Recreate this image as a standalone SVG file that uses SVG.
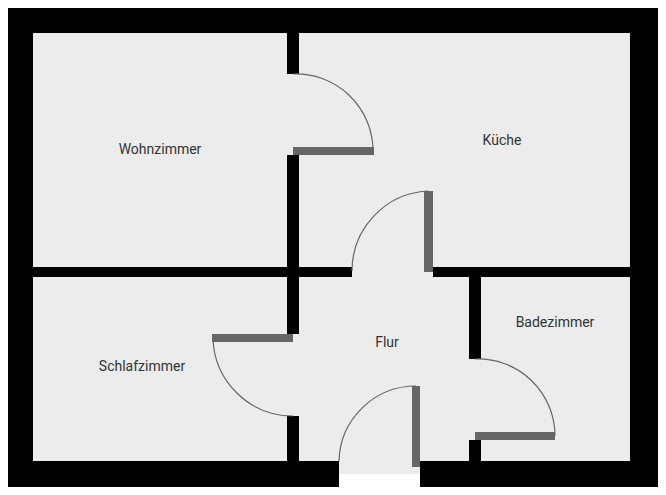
<svg xmlns="http://www.w3.org/2000/svg" width="666" height="495" viewBox="0 0 666 495">
<style>
.w{fill:#000}.d{fill:#666}.a{fill:none;stroke:#666;stroke-width:1.2}
text{font-family:Roboto,"Liberation Sans",sans-serif;font-size:14px;fill:#333;text-anchor:middle}
</style>
<rect width="666" height="495" fill="#fff"/>
<rect x="8" y="8" width="650" height="479" class="w"/>
<rect x="33" y="33" width="597" height="428" fill="#ececec"/>
<rect x="339" y="461" width="81" height="13" fill="#ececec"/>
<rect x="339" y="474" width="81" height="13" fill="#fff"/>
<g id="walls">
<rect x="287" y="33" width="12" height="41" class="w"/>
<rect x="287" y="155" width="12" height="122" class="w"/>
<rect x="33" y="267" width="319" height="10" class="w"/>
<rect x="433" y="267" width="197" height="10" class="w"/>
<rect x="287" y="277" width="12" height="57" class="w"/>
<rect x="287" y="416" width="12" height="45" class="w"/>
<rect x="469" y="277" width="12" height="82" class="w"/>
<rect x="469" y="440" width="12" height="21" class="w"/>
</g>
<g id="doors">
<rect x="293" y="147" width="81" height="8" class="d"/>
<path d="M293,74 A77,77 0 0 1 373,151" class="a"/>
<rect x="424" y="191" width="9" height="81" class="d"/>
<path d="M428,191 A80,80 0 0 0 352,271" class="a"/>
<rect x="212" y="334" width="81" height="8" class="d"/>
<path d="M213,338 A80,80 0 0 0 293,416" class="a"/>
<rect x="475" y="432" width="80" height="8" class="d"/>
<path d="M475,359 A77,77 0 0 1 555,436" class="a"/>
<rect x="412" y="386" width="8" height="81" class="d"/>
<path d="M416,386 A77,77 0 0 0 339,461" class="a"/>
</g>
<g id="labels">
<text x="160" y="154">Wohnzimmer</text>
<text x="502" y="145">Küche</text>
<text x="142" y="371">Schlafzimmer</text>
<text x="387" y="347">Flur</text>
<text x="555" y="327">Badezimmer</text>
</g>
</svg>
